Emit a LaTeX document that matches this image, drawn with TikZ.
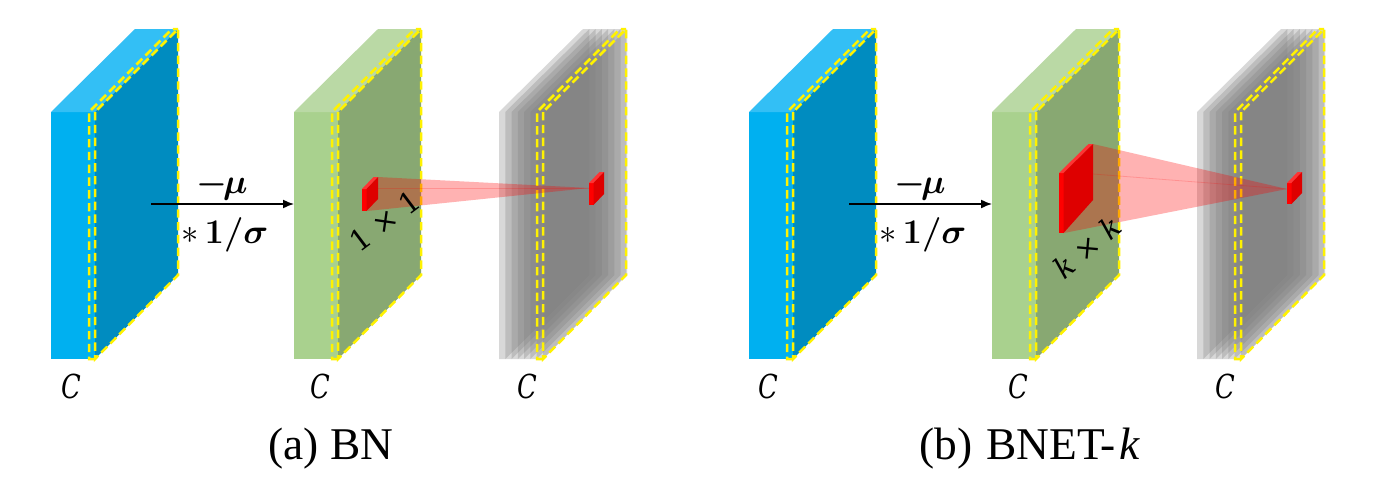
\documentclass[tikz,border=0pt]{standalone}
\usepackage{amsmath}
\usepackage{fontspec}
\setmainfont{Liberation Serif}
\newfontfamily\labfont{DejaVu Serif}
\usetikzlibrary{arrows.meta}
\definecolor{bluefront}{RGB}{0,176,240}
\definecolor{bluetop}{RGB}{51,191,245}
\definecolor{blueside}{RGB}{0,140,192}
\definecolor{greenfront}{RGB}{169,209,142}
\definecolor{greentop}{RGB}{186,217,165}
\definecolor{greenside}{RGB}{136,168,114}
\definecolor{sheetcol}{RGB}{127,127,127}
\definecolor{hullcol}{RGB}{216,216,216}
\definecolor{redtop}{RGB}{255,51,51}
\definecolor{redside}{RGB}{222,0,0}
\tikzset{
  yellowdash/.style={draw=yellow,line width=1.25pt,dash pattern=on 4.2pt off 2.2pt,line cap=butt},
  pinkfan/.style={fill=red,fill opacity=.3,draw=none},
  pinkline/.style={draw=red,draw opacity=.18,line width=.4pt},
  sheetgray/.style={fill=sheetcol,fill opacity=.3,draw=none},
  lab/.style={inner sep=0pt,text=black},
  clabel/.style={inner sep=0pt,text=black,xscale=.78,font=\fontsize{16.5}{18}\labfont\itshape},
  dimlabel/.style={inner sep=0pt,text=black,font=\fontsize{14.5}{18}\labfont},
  caplabel/.style={inner sep=0pt,text=black,font=\fontsize{22.7}{27}\selectfont},
  flowarrow/.style={draw=black,line width=.75pt,-{Latex[length=5.5pt,width=4.5pt]}}
}
% solid slab: left x, colours front / top / side
\newcommand{\solidslab}[4]{%
  \fill[#2] (#1,112) rectangle ({#1+44},359);
  \fill[#3] (#1,112) -- ({#1+84},29) -- ({#1+127},29) -- ({#1+44},112) -- cycle;
  \fill[#4] ({#1+44},112) -- ({#1+127},29) -- ({#1+127},275) -- ({#1+44},359) -- cycle;
}
% two yellow dashed outlines
\newcommand{\yellowbox}[1]{%
  \draw[yellowdash] ({#1+44},359) -- ({#1+38},359) -- ({#1+38},112) -- ({#1+121},29) -- ({#1+127},29);
  \draw[yellowdash] ({#1+44},112) -- ({#1+44},359) -- ({#1+127},275) -- ({#1+127},29) -- ({#1+44},112);
}
% stack of translucent sheets on a pale hull
\newcommand{\sheetstack}[1]{%
  \fill[hullcol] (#1,112) -- ({#1+84},29) -- ({#1+127},29) -- ({#1+127},275) -- ({#1+44},359) -- (#1,359) -- cycle;
  \foreach \i in {1,...,7}{%
    \pgfmathsetmacro{\xx}{#1+\i*44/7}
    \fill[sheetgray] (\xx,112) -- ({\xx+84},29) -- ({\xx+84},275) -- (\xx,359) -- cycle;
  }%
}
% red block: x front-left, y top, front height, depth dx, dy, side height
\newcommand{\redblock}[6]{%
  \fill[red] (#1,#2) rectangle ({#1+4.5},{#2+#3});
  \fill[redtop] (#1,#2) -- ({#1+#4},{#2-#5}) -- ({#1+#4+4.5},{#2-#5}) -- ({#1+4.5},#2) -- cycle;
  \fill[redside] ({#1+4.5},#2) -- ({#1+#4+4.5},{#2-#5}) -- ({#1+#4+4.5},{#2-#5+#6}) -- ({#1+4.5},{#2+#3}) -- cycle;
}
\begin{document}
\begin{tikzpicture}[x=.5pt,y=-.5pt]
\useasboundingbox (0,0) rectangle (1374,477);
\fill[white] (0,0) rectangle (1374,477);
% ---------- panel (a)
\solidslab{51}{bluefront}{bluetop}{blueside}
\yellowbox{51}
\solidslab{294}{greenfront}{greentop}{greenside}
\yellowbox{294}
\sheetstack{499}
\yellowbox{499}
\coordinate (a1) at (151,204);
\coordinate (a2) at (294,204);
\draw[flowarrow] (a1) -- (a2);
\fill[pinkfan] (378,177) -- (589,188) -- (367,211) -- cycle;
\draw[pinkline] (378,188) -- (589,188);
\redblock{362}{189}{22}{11.5}{12}{22}
\redblock{589}{183}{22}{10.5}{11}{22}
\node[lab] (amu) at (222,186) {\LARGE$\boldsymbol{-\mkern-2mu\mu}$};
\node[lab] (asig) at (225,235) {\LARGE$*\,\boldsymbol{1/\sigma}$};
\node[dimlabel,rotate=37] (aone) at (385,221) {1 × 1};
\node[clabel] (ac1) at (71,386) {C};
\node[clabel] (ac2) at (320,386) {C};
\node[clabel] (ac3) at (527,386) {C};
\node[caplabel] (acap) at (331,449) {(a) BN};
% ---------- panel (b)
\solidslab{749}{bluefront}{bluetop}{blueside}
\yellowbox{749}
\solidslab{992}{greenfront}{greentop}{greenside}
\yellowbox{992}
\sheetstack{1197}
\yellowbox{1197}
\coordinate (b1) at (849,204);
\coordinate (b2) at (992,204);
\draw[flowarrow] (b1) -- (b2);
\fill[pinkfan] (1093,144) -- (1287,189) -- (1064,233) -- cycle;
\draw[pinkline] (1093,174) -- (1287,189);
\redblock{1059}{173}{60}{29.5}{29}{56}
\redblock{1287}{183}{21}{10.5}{11}{21}
\node[lab] (bmu) at (920,186) {\LARGE$\boldsymbol{-\mkern-2mu\mu}$};
\node[lab] (bsig) at (923,235) {\LARGE$*\,\boldsymbol{1/\sigma}$};
\node[dimlabel,rotate=40] (bk) at (1087,247) {\textit{k} × \textit{k}};
\node[clabel] (bc1) at (768,386) {C};
\node[clabel] (bc2) at (1018,386) {C};
\node[clabel] (bc3) at (1225,386) {C};
\node[caplabel] (bcap) at (1030,449) {(b)\hspace{1.5pt} BNET-\hspace{2pt}\textit{k}};
\end{tikzpicture}
\end{document}
